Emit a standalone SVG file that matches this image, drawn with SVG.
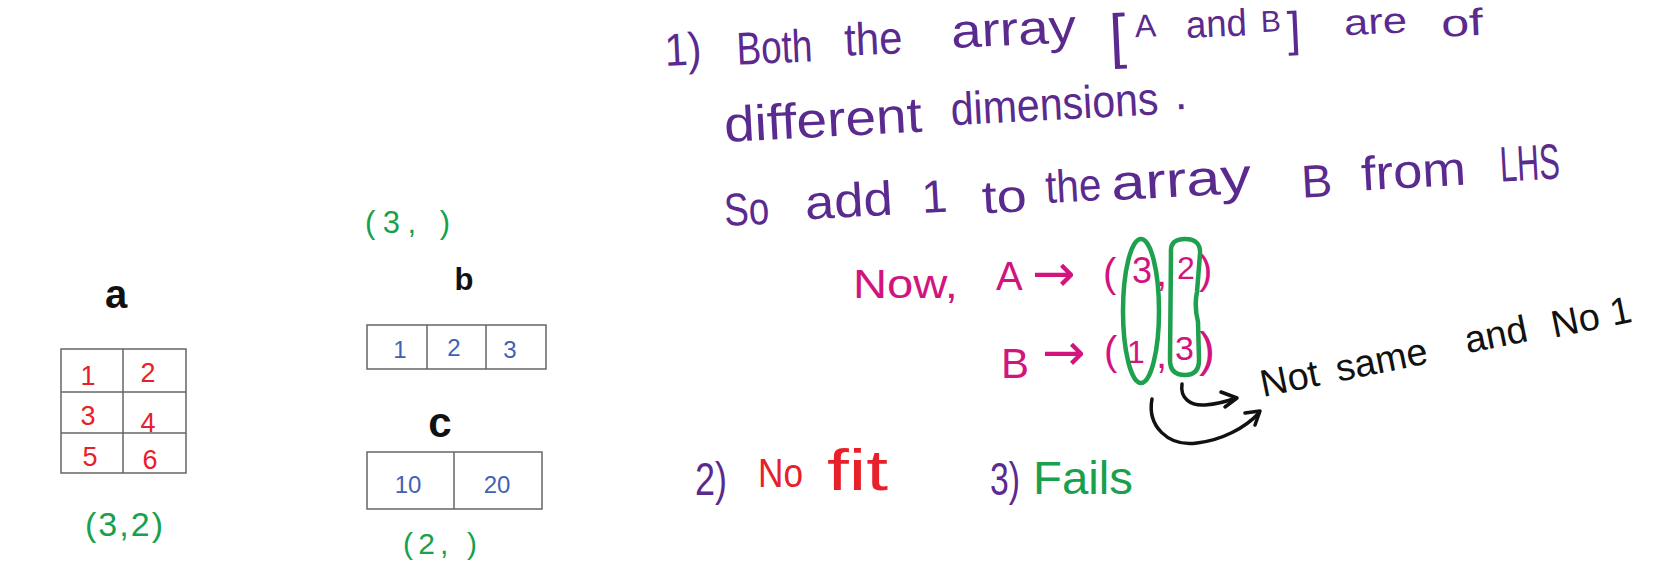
<svg xmlns="http://www.w3.org/2000/svg" width="1663" height="568" viewBox="0 0 1663 568">
<style>
text{font-family:"Liberation Sans",Arial,sans-serif}
.pu{fill:#5b2a8f;font-size:46px}
.pk{fill:#d2147e;font-size:40px}
.gr{fill:#18a04d}
.rd{fill:#e8202a}
.bl{fill:#3f62b3;font-size:24px}
.bk{fill:#111}
.lbl{fill:#111;font-weight:bold}
.arr{font-family:"DejaVu Sans",sans-serif;font-size:52px}
.grid{fill:none;stroke:#666;stroke-width:1.5}
.hl{fill:none;stroke:#1ea04f;stroke-width:4.5}
.conn{fill:none;stroke:#111;stroke-width:3.5;stroke-linecap:round;stroke-linejoin:round}
</style>
<rect width="1663" height="568" fill="#fff"/>

<g id="array-a">
  <text class="lbl" x="116" y="308" font-size="40" text-anchor="middle">a</text>
  <rect class="grid" x="61" y="349" width="125" height="124"/>
  <line class="grid" x1="123" y1="349" x2="123" y2="473"/>
  <line class="grid" x1="61" y1="392" x2="186" y2="392"/>
  <line class="grid" x1="61" y1="433" x2="186" y2="433"/>
  <g class="rd" font-size="27" text-anchor="middle">
    <text x="88" y="385">1</text>
    <text x="148" y="382">2</text>
    <text x="88" y="425">3</text>
    <text x="148" y="432">4</text>
    <text x="90" y="466">5</text>
    <text x="150" y="469">6</text>
  </g>
  <text class="gr" x="85" y="536" font-size="34" textLength="78" lengthAdjust="spacing">(3,2)</text>
</g>

<g id="array-b">
  <text class="gr" x="365" y="233" font-size="31" textLength="85" lengthAdjust="spacing">(3, )</text>
  <text class="lbl" x="464" y="290" font-size="31" text-anchor="middle">b</text>
  <rect class="grid" x="367" y="325" width="179" height="44"/>
  <line class="grid" x1="427" y1="325" x2="427" y2="369"/>
  <line class="grid" x1="486" y1="325" x2="486" y2="369"/>
  <g class="bl" text-anchor="middle">
    <text x="400" y="358">1</text>
    <text x="454" y="356">2</text>
    <text x="510" y="358">3</text>
  </g>
</g>

<g id="array-c">
  <text class="lbl" x="440" y="437" font-size="42" text-anchor="middle">c</text>
  <rect class="grid" x="367" y="452" width="175" height="57"/>
  <line class="grid" x1="454" y1="452" x2="454" y2="509"/>
  <g class="bl" text-anchor="middle">
    <text x="408" y="493">10</text>
    <text x="497" y="493">20</text>
  </g>
  <text class="gr" x="403" y="554" font-size="30" textLength="74" lengthAdjust="spacing">(2, )</text>
</g>

<g id="note-1">
  <text class="pu" transform="rotate(-2.6 665 62)"><tspan x="665" y="66" textLength="37" lengthAdjust="spacingAndGlyphs">1)</tspan> <tspan x="737" y="68" textLength="76" lengthAdjust="spacingAndGlyphs">Both</tspan> <tspan x="845" y="64" textLength="58" lengthAdjust="spacingAndGlyphs">the</tspan> <tspan x="952" y="61" font-size="48" textLength="125" lengthAdjust="spacingAndGlyphs">array</tspan> <tspan x="1110" y="77" font-size="60">[</tspan><tspan x="1136" y="58.5" font-size="32">A</tspan> <tspan x="1187" y="61.7" font-size="38" textLength="61" lengthAdjust="spacingAndGlyphs">and</tspan> <tspan x="1262" y="59" font-size="30">B</tspan><tspan x="1288" y="74" font-size="48">]</tspan> <tspan x="1345" y="66" font-size="36" textLength="63" lengthAdjust="spacingAndGlyphs">are</tspan> <tspan x="1442" y="72" font-size="38" textLength="42" lengthAdjust="spacingAndGlyphs">of</tspan></text>
</g>

<g id="note-dimensions">
  <text class="pu" transform="rotate(-3 725 142)"><tspan x="725" y="142" font-size="50" textLength="198" lengthAdjust="spacingAndGlyphs">different</tspan> <tspan x="952" y="137" textLength="208" lengthAdjust="spacingAndGlyphs">dimensions</tspan><tspan x="1176" y="133">.</tspan></text>
</g>

<g id="note-add">
  <text class="pu" transform="rotate(-3.2 725 227)"><tspan x="725" y="226" textLength="45" lengthAdjust="spacingAndGlyphs">So</tspan> <tspan x="806" y="224" font-size="48" textLength="88" lengthAdjust="spacingAndGlyphs">add</tspan> <tspan x="923" y="224">1</tspan> <tspan x="983" y="228" textLength="45" lengthAdjust="spacingAndGlyphs">to</tspan> <tspan x="1047" y="221" textLength="56" lengthAdjust="spacingAndGlyphs">the</tspan> <tspan x="1113" y="222" font-size="50" textLength="140" lengthAdjust="spacingAndGlyphs">array</tspan> <tspan x="1303" y="230">B</tspan> <tspan x="1363" y="226" font-size="48" textLength="105" lengthAdjust="spacingAndGlyphs">from</tspan> <tspan x="1502" y="225" font-size="50" textLength="60" lengthAdjust="spacingAndGlyphs">LHS</tspan></text>
</g>

<g id="note-now">
  <text class="pk" x="853" y="298" font-size="44" textLength="105" lengthAdjust="spacingAndGlyphs">Now,</text>
</g>

<g id="shape-A">
  <text class="pk"><tspan x="996" y="290">A</tspan> <tspan class="arr" x="1032" y="291">→</tspan> <tspan x="1103" y="287">(</tspan><tspan x="1132" y="283" font-size="36">3</tspan><tspan x="1156" y="286">,</tspan><tspan x="1177" y="279" font-size="32">2</tspan><tspan x="1199" y="284">)</tspan></text>
</g>

<g id="shape-B">
  <text class="pk"><tspan x="1001" y="378" font-size="42">B</tspan> <tspan class="arr" x="1042" y="370">→</tspan> <tspan x="1104" y="365">(</tspan><tspan x="1127" y="363" font-size="32">1</tspan><tspan x="1156" y="368">,</tspan><tspan x="1175" y="360" font-size="34">3</tspan><tspan x="1199" y="366" font-size="48">)</tspan></text>
</g>

<g id="highlight-first">
  <ellipse class="hl" cx="1141" cy="311" rx="18" ry="72"/>
</g>
<g id="highlight-last">
  <path class="hl" d="M1171,252 Q1170,239 1185,239 Q1201,239 1200,254 L1197,292 Q1194,306 1198,322 L1199,360 Q1199,375 1185,375 Q1170,375 1170,360 Z"/>
</g>

<g id="note-not-same">
  <text class="bk" font-size="38" transform="rotate(-11.5 1263 397)"><tspan x="1263" y="397">Not</tspan> <tspan x="1340" y="397">same</tspan> <tspan x="1472" y="395">and</tspan> <tspan x="1560" y="397">No</tspan> <tspan x="1620" y="397">1</tspan></text>
</g>

<g id="connectors">
  <path class="conn" d="M1182,384 C1180,398 1190,406 1205,405 C1218,404 1228,401 1236,398"/>
  <path class="conn" d="M1221,392 L1237,398 L1225,407"/>
  <path class="conn" d="M1152,399 C1147,426 1168,447 1197,443 C1222,440 1245,428 1259,413"/>
  <path class="conn" d="M1245,413 L1260,411 L1255,425"/>
</g>

<g id="note-2">
  <text class="pu" x="695" y="495" font-size="42" textLength="32" lengthAdjust="spacingAndGlyphs">2)</text>
  <text class="rd" font-size="40"><tspan x="758" y="487" textLength="45" lengthAdjust="spacingAndGlyphs">No</tspan> <tspan x="827" y="490" font-size="58" textLength="61" lengthAdjust="spacingAndGlyphs">fit</tspan></text>
</g>

<g id="note-3">
  <text class="pu" x="990" y="495" font-size="42" textLength="30" lengthAdjust="spacingAndGlyphs">3)</text>
  <text class="gr" x="1033" y="494" font-size="46" textLength="100" lengthAdjust="spacingAndGlyphs">Fails</text>
</g>
</svg>
